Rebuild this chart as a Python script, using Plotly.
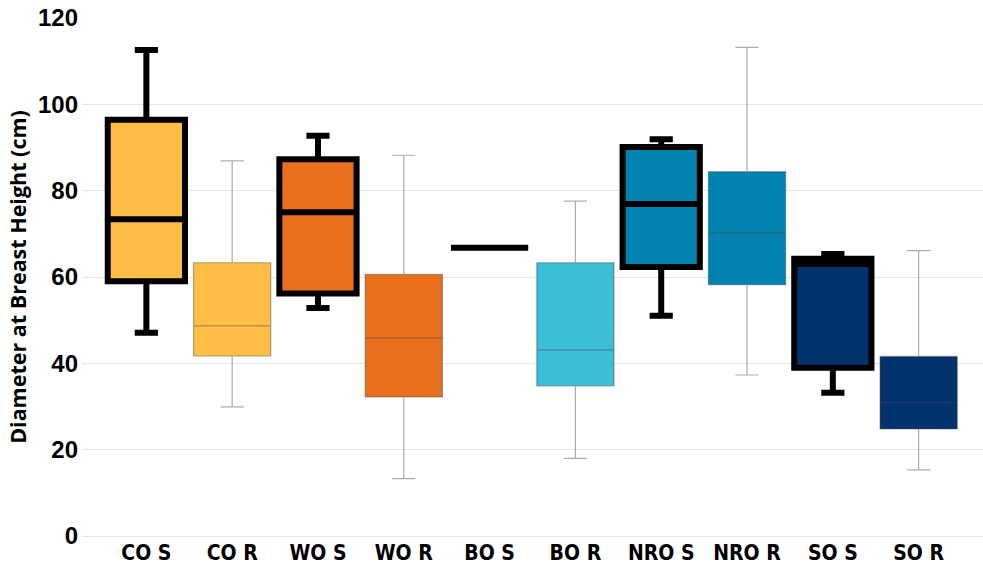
import plotly.graph_objects as go

# Tree diameter summaries per site (S / R), five-number style box statistics
labels = ["CO S", "CO R", "WO S", "WO R", "BO S", "BO R", "NRO S", "NRO R", "SO S", "SO R"]
lower_fence = [47.1, 29.9, 52.8, 13.3, 66.8, 18.0, 51.0, 37.3, 33.2, 15.3]
q1_values = [59.0, 41.7, 56.2, 32.2, 66.8, 34.8, 62.3, 58.2, 39.0, 24.8]
medians = [73.4, 48.7, 75.0, 45.9, 66.8, 43.1, 76.9, 70.2, 63.0, 30.9]
q3_values = [96.4, 63.3, 87.3, 60.6, 66.8, 63.3, 90.1, 84.4, 64.2, 41.6]
upper_fence = [112.6, 86.9, 92.7, 88.2, 66.8, 77.6, 91.9, 113.2, 65.3, 66.1]

site_colors = ["#FFBF47", "#FFBF47", "#EB6E1E", "#EB6E1E", "#3CBDD6", "#3CBDD6",
               "#0083AF", "#0083AF", "#02336F", "#02336F"]

y_ticks = [0, 20, 40, 60, 80, 100, 120]

fig = go.Figure()
for i, name in enumerate(labels):
    standing = name.endswith("S")
    fig.add_trace(go.Box(
        x=[name],
        q1=[q1_values[i]],
        median=[medians[i]],
        q3=[q3_values[i]],
        lowerfence=[lower_fence[i]],
        upperfence=[upper_fence[i]],
        name=name,
        fillcolor=site_colors[i],
        line=dict(color="#000000" if standing else "rgba(70,70,70,0.45)",
                  width=6 if standing else 1.2),
        width=0.9,
        whiskerwidth=0.3,
        boxpoints=False,
        showlegend=False,
        hoverinfo="skip",
    ))

fig.update_layout(
    width=983,
    height=568,
    margin=dict(l=82, r=0, t=18, b=32),
    plot_bgcolor="white",
    paper_bgcolor="white",
    xaxis=dict(
        type="category",
        categoryorder="array",
        categoryarray=labels,
        range=[-0.75, 9.75],
        showgrid=False,
        showline=False,
        zeroline=False,
        ticks="",
        ticklabelstandoff=2,
        tickfont=dict(family="Liberation Sans Narrow, DejaVu Sans Condensed, Arial Narrow, sans-serif",
                      size=21, color="#000000", weight="bold"),
    ),
    yaxis=dict(
        range=[0, 120],
        tickvals=y_ticks,
        showgrid=True,
        gridcolor="#E6E6E6",
        gridwidth=1,
        zeroline=True,
        zerolinecolor="#E6E6E6",
        zerolinewidth=1,
        showline=False,
        ticks="",
        ticklabelstandoff=3,
        tickfont=dict(family="Liberation Sans, Arial, sans-serif", size=24,
                      color="#000000", weight="bold"),
        title=dict(text="Diameter at Breast Height (cm)",
                   font=dict(family="Open Sans, sans-serif", size=21.5,
                             color="#000000", weight="bold"),
                   standoff=5),
    ),
)

fig.write_html("out.html")
